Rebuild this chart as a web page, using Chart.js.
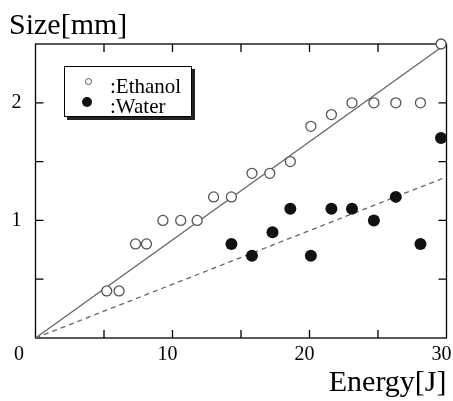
<!DOCTYPE html>
<html>
<head>
<meta charset="utf-8">
<script src="https://cdn.jsdelivr.net/npm/chart.js@4/dist/chart.umd.min.js"></script>
<style>
    body { margin: 0; background: #fff; }
    #wrap { position: relative; width: 453px; height: 401px; overflow: hidden; }
    #legend {
        position: absolute; left: 64px; top: 66px; width: 126px; height: 49px;
        border: 1px solid #000; box-shadow: 3px 3px 0 #222; background: #fff;
        font-family: 'Liberation Serif', 'Times New Roman', serif; font-size: 21px;
    }
    #legend .row { position: absolute; left: 45px; line-height: 20px; white-space: nowrap; }
    #legend .mark { position: absolute; border-radius: 50%; box-sizing: border-box; }
</style>
</head>
<body>
<div id="wrap">
    <canvas id="sizeChart" width="453" height="401"></canvas>
    <div id="legend"></div>
</div>
<script>
// --- dữ liệu ---
const ethanolEnergy = [5.2, 6.1, 7.3, 8.1, 9.3, 10.6, 11.8, 13.0, 14.3, 15.8, 17.1, 18.6, 20.1, 21.6, 23.1, 24.7, 26.3, 28.1, 29.6];
const ethanolSize   = [0.4, 0.4, 0.8, 0.8, 1.0, 1.0, 1.0, 1.2, 1.2, 1.4, 1.4, 1.5, 1.8, 1.9, 2.0, 2.0, 2.0, 2.0, 2.5];

const waterEnergy = [14.3, 15.8, 17.3, 18.6, 20.1, 21.6, 23.1, 24.7, 26.3, 28.1, 29.6];
const waterSize   = [0.8, 0.7, 0.9, 1.1, 0.7, 1.1, 1.1, 1.0, 1.2, 0.8, 1.7];

// đường fit
const ethanolFitX = [0, 29.6];
const ethanolFitY = [0, 2.47];
const waterFitX = [0, 30];
const waterFitY = [0, 1.37];

const seriesNames = [':Ethanol', ':Water'];
const xTickLabels = [10, 20, 30];
const yTickLabels = [1, 2];

const serif = "'Liberation Serif', 'Times New Roman', serif";

function toPoints(xs, ys) {
    return xs.map((x, i) => ({ x: x, y: ys[i] }));
}

// legend html
const legendEl = document.getElementById('legend');
legendEl.innerHTML = `
    <div class="mark" style="left:20px;top:11px;width:7px;height:7px;border:1.2px solid #555;background:#fff"></div>
    <div class="row" style="top:9px">${seriesNames[0]}</div>
    <div class="mark" style="left:17px;top:30px;width:10px;height:10px;background:#111"></div>
    <div class="row" style="top:29px">${seriesNames[1]}</div>
`;

// khung + vạch chia hướng vào trong
const framePlugin = {
    id: 'frame',
    beforeDatasetsDraw(chart) {
        const { ctx, chartArea: a, scales } = chart;
        ctx.save();
        ctx.strokeStyle = '#000';
        ctx.lineWidth = 1.3;
        ctx.strokeRect(a.left, a.top, a.right - a.left, a.bottom - a.top);
        ctx.beginPath();
        for (let v = 5; v < 30; v += 5) {
            const px = scales.x.getPixelForValue(v);
            ctx.moveTo(px, a.bottom); ctx.lineTo(px, a.bottom - 8);
            ctx.moveTo(px, a.top); ctx.lineTo(px, a.top + 8);
        }
        for (let v = 0.5; v < 2.5; v += 0.5) {
            const py = scales.y.getPixelForValue(v);
            ctx.moveTo(a.left, py); ctx.lineTo(a.left + 8, py);
            ctx.moveTo(a.right, py); ctx.lineTo(a.right - 8, py);
        }
        ctx.stroke();
        ctx.restore();
    },
    afterDraw(chart) {
        // nhãn "0" ở góc
        const { ctx, chartArea: a } = chart;
        ctx.save();
        ctx.font = '20px ' + serif;
        ctx.fillStyle = '#000';
        ctx.textAlign = 'center';
        ctx.textBaseline = 'middle';
        ctx.fillText('0', a.left - 16.5, a.bottom + 17);
        ctx.restore();
    }
};

const ctx = document.getElementById('sizeChart').getContext('2d');
new Chart(ctx, {
    type: 'scatter',
    data: {
        datasets: [
            {
                label: seriesNames[0],
                data: toPoints(ethanolEnergy, ethanolSize),
                pointStyle: 'circle',
                pointRadius: 5,
                borderWidth: 1.3,
                borderColor: '#555',
                backgroundColor: '#fff',
                clip: false
            },
            {
                label: seriesNames[1],
                data: toPoints(waterEnergy, waterSize),
                pointStyle: 'circle',
                pointRadius: 6,
                borderWidth: 0,
                borderColor: '#111',
                backgroundColor: '#111',
                clip: false
            },
            {
                type: 'line',
                data: toPoints(ethanolFitX, ethanolFitY),
                borderColor: '#666',
                borderWidth: 1.3,
                pointRadius: 0,
                fill: false
            },
            {
                type: 'line',
                data: toPoints(waterFitX, waterFitY),
                borderColor: '#666',
                borderWidth: 1.3,
                borderDash: [5, 4],
                pointRadius: 0,
                fill: false
            }
        ]
    },
    options: {
        responsive: false,
        animation: false,
        devicePixelRatio: 1,
        layout: { padding: { left: 9, right: 6.5, top: 0, bottom: 0 } },
        plugins: {
            legend: { display: false },
            tooltip: { enabled: false },
            title: {
                display: true,
                text: 'Size[mm]',
                align: 'start',
                color: '#000',
                font: { family: serif, size: 30, weight: 'normal' },
                padding: { top: 8, bottom: 0 }
            }
        },
        scales: {
            x: {
                type: 'linear',
                min: 0, max: 30,
                grid: { display: false, drawTicks: false },
                border: { display: false },
                ticks: {
                    stepSize: 5,
                    autoSkip: false,
                    maxRotation: 0,
                    padding: 5,
                    labelOffset: -5,
                    color: '#000',
                    font: { family: serif, size: 20 },
                    callback: v => xTickLabels.includes(v) ? String(v) : ''
                },
                title: {
                    display: true,
                    text: 'Energy[J]',
                    align: 'end',
                    color: '#000',
                    font: { family: serif, size: 30 },
                    padding: { top: 0, bottom: 0 }
                },
                afterFit(scale) {
                    scale.height = 63;
                    scale.paddingLeft = 0;
                    scale.paddingRight = 0;
                }
            },
            y: {
                type: 'linear',
                min: 0, max: 2.5,
                grid: { display: false, drawTicks: false },
                border: { display: false },
                ticks: {
                    stepSize: 0.5,
                    autoSkip: false,
                    padding: 14,
                    color: '#000',
                    font: { family: serif, size: 20 },
                    callback: v => yTickLabels.includes(v) ? String(v) : ''
                },
                afterFit(scale) {
                    scale.width = 26.5;
                    scale.paddingTop = 0;
                    scale.paddingBottom = 0;
                }
            }
        }
    },
    plugins: [framePlugin]
});
</script>
</body>
</html>
